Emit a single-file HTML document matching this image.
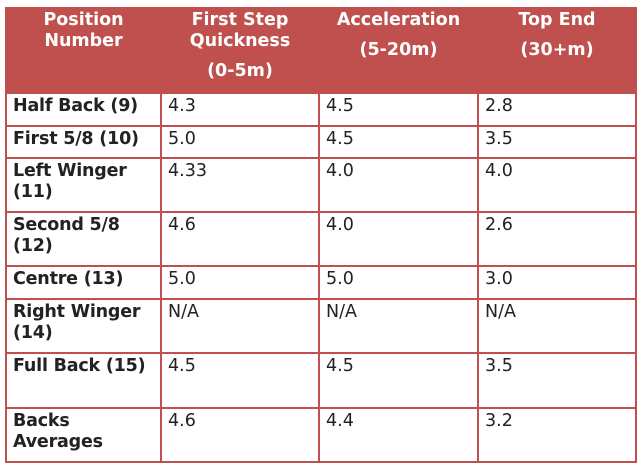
<!DOCTYPE html>
<html><head><meta charset="utf-8"><style>
body{margin:0;background:#fff;width:641px;height:466px;overflow:hidden}
table{position:absolute;left:5px;top:7px;border-collapse:collapse;table-layout:fixed;font-family:"DejaVu Sans","Liberation Sans",sans-serif;font-size:17.5px;color:#222}
td,th{border:2px solid #c0504d;vertical-align:top;padding:0 6px;line-height:21px}
th{background:#c0504d;color:#fff;font-weight:bold;text-align:center;padding-top:1px;border-color:#c0504d;font-size:17.5px}
th .u{display:block;margin-top:9px}
td.p{font-weight:bold;letter-spacing:-0.2px}
td{padding-top:2px}
</style></head><body>
<table>
<colgroup><col style="width:155px"><col style="width:158px"><col style="width:159px"><col style="width:158px"></colgroup>
<tr style="height:85px">
<th>Position<br>Number</th>
<th>First Step<br>Quickness<span class="u">(0-5m)</span></th>
<th>Acceleration<span class="u">(5-20m)</span></th>
<th>Top End<span class="u">(30+m)</span></th>
</tr>
<tr style="height:33px"><td class="p">Half Back (9)</td><td>4.3</td><td>4.5</td><td>2.8</td></tr>
<tr style="height:32px"><td class="p">First 5/8 (10)</td><td>5.0</td><td>4.5</td><td>3.5</td></tr>
<tr style="height:54px"><td class="p">Left Winger (11)</td><td>4.33</td><td>4.0</td><td>4.0</td></tr>
<tr style="height:54px"><td class="p">Second 5/8 (12)</td><td>4.6</td><td>4.0</td><td>2.6</td></tr>
<tr style="height:33px"><td class="p">Centre (13)</td><td>5.0</td><td>5.0</td><td>3.0</td></tr>
<tr style="height:54px"><td class="p">Right Winger (14)</td><td>N/A</td><td>N/A</td><td>N/A</td></tr>
<tr style="height:55px"><td class="p">Full Back (15)</td><td>4.5</td><td>4.5</td><td>3.5</td></tr>
<tr style="height:54px"><td class="p">Backs Averages</td><td>4.6</td><td>4.4</td><td>3.2</td></tr>
</table>
</body></html>
